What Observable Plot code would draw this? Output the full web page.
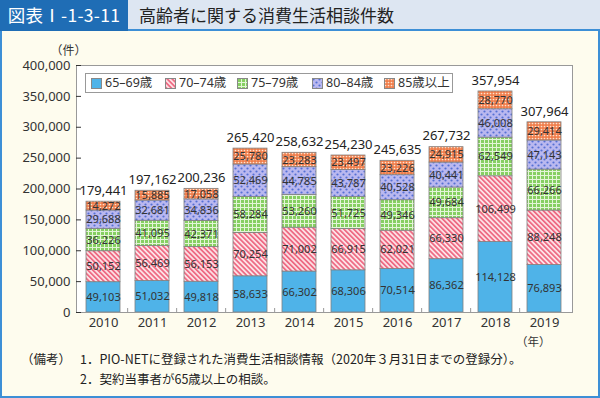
<!DOCTYPE html>
<html><head><meta charset="utf-8">
<script src="https://cdn.jsdelivr.net/npm/d3@7"></script>
<script src="https://cdn.jsdelivr.net/npm/@observablehq/plot@0.6"></script>
<style>
body{margin:0;background:#fff;}
#wrap{position:relative;width:600px;height:398px;background:#fefcee;overflow:hidden;font-family:"Noto Sans CJK JP",sans-serif;}
#hdr{position:absolute;left:0;top:0;width:600px;height:29px;background:#dde6f2;border-bottom:2px solid #3d8fd6;}
#tag{position:absolute;left:0;top:0;width:128px;height:31px;background:#1f6db5;color:#fff;font-size:17.5px;line-height:30px;text-align:center;letter-spacing:0.3px;}
#ttl{position:absolute;left:139px;top:0;line-height:30px;font-size:17px;color:#222;}
#lb,#rb{position:absolute;top:31px;bottom:0;width:2px;background:#3d8fd6}
#lb{left:0}#rb{right:0}
#bb{position:absolute;left:0;right:0;bottom:0;height:2px;background:#3d8fd6}
#chart{position:absolute;left:0;top:35px;}
#legend{position:absolute;left:85px;top:73px;width:366px;height:18px;border:1px solid #999;background:#fff;font-size:12.5px;color:#333;}
#legend .it{position:absolute;top:0;height:18px;line-height:18px;white-space:nowrap;font-family:"Noto Sans","Noto Sans CJK JP",sans-serif;}
#legend svg{position:absolute;left:0;top:4px;}
#legend span{position:absolute;left:14px;top:0;}
.note{position:absolute;font-size:12.5px;color:#222;white-space:nowrap;}
</style></head>
<body>
<svg width="0" height="0" style="position:absolute">
<defs>
<pattern id="p1" width="3.5" height="3.5" patternUnits="userSpaceOnUse" patternTransform="rotate(-45)">
<rect width="3.5" height="3.5" fill="#fde4e8"/><rect width="1.8" height="3.5" fill="#ee6b84"/></pattern>
<pattern id="p2" width="4" height="4" patternUnits="userSpaceOnUse">
<rect width="4" height="4" fill="#86cf62"/><rect width="1" height="4" fill="#e4f5d8"/><rect width="4" height="1" fill="#e4f5d8"/></pattern>
<pattern id="p3" width="6" height="6" patternUnits="userSpaceOnUse">
<rect width="6" height="6" fill="#bab8ef"/><circle cx="1.5" cy="1.5" r="1.1" fill="#5570d5"/><circle cx="4.5" cy="4.5" r="1.1" fill="#5570d5"/></pattern>
<pattern id="p4" width="3" height="3" patternUnits="userSpaceOnUse">
<rect width="3" height="3" fill="#f07e4c"/><circle cx="1.5" cy="1.5" r="0.85" fill="#fde3cf"/></pattern>
</defs></svg>
<div id="wrap">
<div id="hdr"><div id="tag">図表Ⅰ-1-3-11</div><div id="ttl">高齢者に関する消費生活相談件数</div></div>
<div id="lb"></div><div id="rb"></div><div id="bb"></div>
<div id="chart"></div>
<div id="legend"></div>
<div class="note" style="left:21px;top:349px">（備考）</div>
<div class="note" style="left:80px;top:349px">1．PIO-NETに登録された消費生活相談情報（2020年３月31日までの登録分）。</div>
<div class="note" style="left:80px;top:369px">2．契約当事者が65歳以上の相談。</div>
</div>
<script>
const years = ["2010","2011","2012","2013","2014","2015","2016","2017","2018","2019"];
const groups = ["65–69歳","70–74歳","75–79歳","80–84歳","85歳以上"];
const v6569 = [49103,51032,49818,58633,66302,68306,70514,86362,114128,76893];
const v7074 = [50152,56469,56153,70254,71002,66915,62021,66330,106499,88248];
const v7579 = [36226,41095,42371,58284,53260,51725,49346,49684,62549,66266];
const v8084 = [29688,32681,34836,52469,44785,43787,40528,40441,46008,47143];
const v85up = [14272,15885,17058,25780,23283,23497,23226,24915,28770,29414];
const totals = [179441,197162,200236,265420,258632,254230,245635,267732,357954,307964];
const yTicks = [0,50000,100000,150000,200000,250000,300000,350000,400000];

const fills = ["#4fb3e8","url(#p1)","url(#p2)","url(#p3)","url(#p4)"];
const series = [v6569,v7074,v7579,v8084,v85up];
const data = [];
series.forEach((vals,gi)=>vals.forEach((v,i)=>data.push({year:years[i],group:groups[gi],value:v})));
const fmt = d3.format(",");
const numFont = '"Noto Sans","Noto Sans CJK JP",sans-serif';

const plot = Plot.plot({
  width:600, height:300,
  marginLeft:76, marginRight:28, marginTop:30, marginBottom:23,
  style:{fontFamily:numFont, fontSize:"13px", color:"#333", background:"transparent", overflow:"visible"},
  x:{domain:years, paddingInner:0.3, paddingOuter:0.14},
  y:{domain:[0,400000]},
  color:{domain:groups, range:fills},
  marks:[
    Plot.frame({fill:"white"}),
    Plot.barY(data,{x:"year",y:"value",fill:"group",stroke:"#808080",strokeWidth:0.8}),
    Plot.text(data, Plot.stackY({x:"year",y:"value",z:"group",text:d=>fmt(d.value),fontSize:11,fill:"#333"})),
    Plot.text(years,{x:d=>d, y:(d,i)=>totals[i], text:(d,i)=>fmt(totals[i]), dy:-11, fontSize:13, fill:"#222"}),
    Plot.frame({stroke:"#999"}),
    Plot.axisY({ticks:yTicks, tickFormat:fmt, tickSize:-5, tickPadding:11, label:null, fontSize:13}),
    Plot.axisX({tickSize:0, tickPadding:5, label:null, fontSize:13}),
    Plot.text(["（件）"],{frameAnchor:"top-left", dx:-26, dy:-19, fontSize:12, fontFamily:'"Noto Sans CJK JP"'}),
    Plot.text(["（年）"],{frameAnchor:"bottom-right", dx:-22, dy:33, fontSize:11.5, fontFamily:'"Noto Sans CJK JP"'})
  ]
});
document.getElementById("chart").appendChild(plot);

// small ticks between bars on the x axis
const xs = plot.scale("x");
const ys = plot.scale("y");
const svg = d3.select(plot);
const y0 = ys.apply(0);
years.slice(1).forEach(yr=>{
  const xv = xs.apply(yr) - xs.step*xs.paddingInner/2;
  svg.append("line").attr("x1",xv).attr("x2",xv).attr("y1",y0).attr("y2",y0-4).attr("stroke","#999");
});

// legend
const lg = document.getElementById("legend");
const offs = [5,79,151,226,298];
groups.forEach((g,i)=>{
  const it = document.createElement("div");
  it.className="it"; it.style.left = offs[i]+"px";
  it.innerHTML = `<svg width="11" height="11"><rect x="0.5" y="0.5" width="10" height="10" fill="${fills[i]}" stroke="#888"/></svg><span>${g}</span>`;
  lg.appendChild(it);
});
</script>
</body></html>
